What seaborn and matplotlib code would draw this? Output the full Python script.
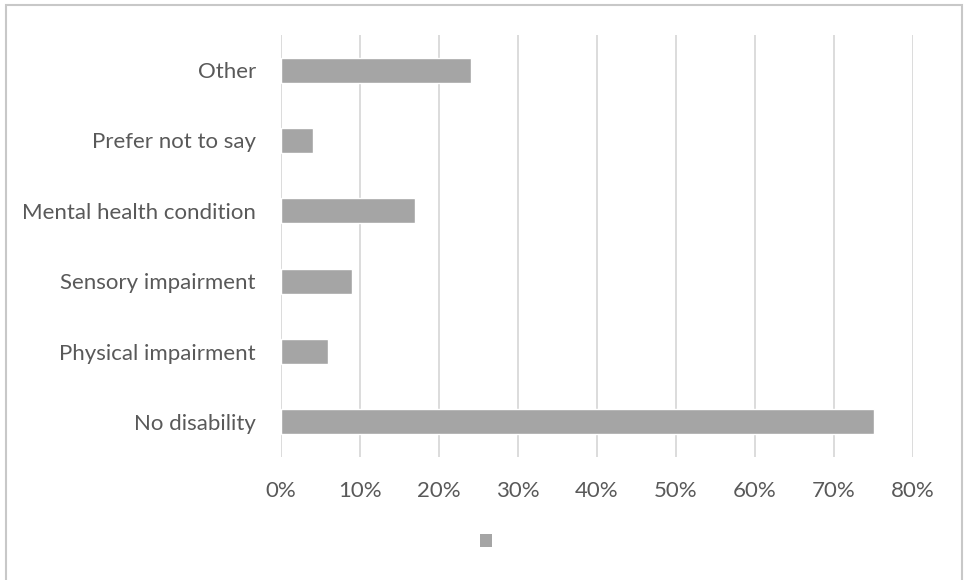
import matplotlib
matplotlib.use("Agg")
import matplotlib.pyplot as plt
import seaborn as sns
import pandas as pd
from matplotlib.patches import Patch, Rectangle
from matplotlib.ticker import FuncFormatter

categories = ["Other", "Prefer not to say", "Mental health condition",
              "Sensory impairment", "Physical impairment", "No disability"]
values = [0.24, 0.04, 0.17, 0.09, 0.06, 0.75]
xticks = [0, 0.1, 0.2, 0.3, 0.4, 0.5, 0.6, 0.7, 0.8]

df = pd.DataFrame({"category": categories, "value": values})

sns.set_theme(style="white")
plt.rcParams["font.family"] = ["Lato", "DejaVu Sans"]

W, H = 964, 580
fig = plt.figure(figsize=(W / 100, H / 100), dpi=100)
ax = fig.add_axes([281 / W, 1 - 457 / H, (913 - 281) / W, (457 - 35) / H])

sns.barplot(data=df, x="value", y="category", orient="h", color="#A5A5A5",
            saturation=1, width=0.36, ax=ax, order=categories)

ax.set_xlim(0, 0.8)
ax.set_xticks(xticks)
ax.xaxis.set_major_formatter(FuncFormatter(lambda v, p: f"{v*100:.0f}%"))
ax.grid(axis="x", color="#D9D9D9", linewidth=1.3)
ax.set_axisbelow(True)
for s in ax.spines.values():
    s.set_visible(False)
ax.set_xlabel("")
ax.set_ylabel("")
ax.tick_params(axis="both", length=0, labelsize=16, colors="#595959")
ax.tick_params(axis="x", pad=17)
ax.tick_params(axis="y", pad=18)

fig.legend(handles=[Patch(facecolor="#A5A5A5", edgecolor="none")], labels=[""],
           loc="center", bbox_to_anchor=(486 / W, 1 - 541.5 / H), frameon=False,
           fontsize=11, handlelength=0.75, handleheight=0.9,
           handletextpad=0, borderpad=0)

fig.patches.append(Rectangle((5.5 / W, -0.1), (962 - 5.5) / W, 1.1 - 5.5 / H,
                             transform=fig.transFigure, fill=False,
                             edgecolor="#C8C8C8", linewidth=1.5))

fig.savefig("out.png", dpi=100, facecolor="white")
